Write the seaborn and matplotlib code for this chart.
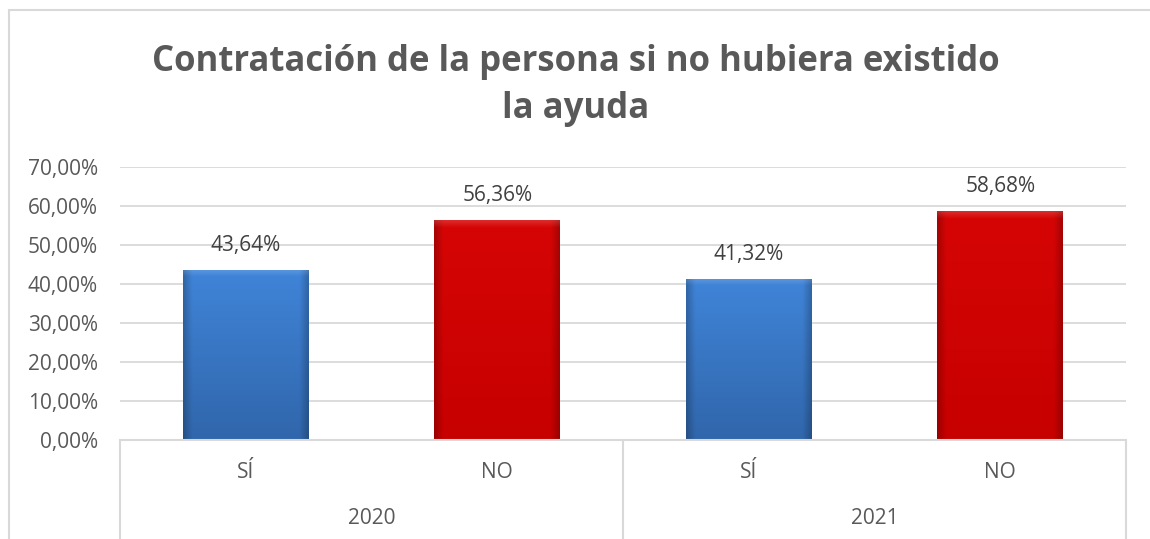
import numpy as np
import pandas as pd
import seaborn as sns
import matplotlib.pyplot as plt
from matplotlib.lines import Line2D
from matplotlib.patches import Rectangle

# ---- data ----
years = ["2020", "2020", "2021", "2021"]
answers = ["SÍ", "NO", "SÍ", "NO"]
values = [43.64, 56.36, 41.32, 58.68]
labels = ["43,64%", "56,36%", "41,32%", "58,68%"]
ytick_vals = [0, 10, 20, 30, 40, 50, 60, 70]
ytick_labels = ["0,00%", "10,00%", "20,00%", "30,00%", "40,00%", "50,00%", "60,00%", "70,00%"]
title_lines = ["Contratación de la persona si no hubiera existido", "la ayuda"]

keys = [f"{y} {a}" for y, a in zip(years, answers)]
df = pd.DataFrame({"key": keys, "year": years, "answer": answers, "value": values})

W, H = 1150, 539
sns.set_theme(style="white")
plt.rcParams["font.family"] = ["Open Sans", "DejaVu Sans"]

fig = plt.figure(figsize=(W / 100, H / 100), dpi=100)
fig.patch.set_facecolor("white")

ax_left, ax_right, ax_top, ax_bot = 120, 1126, 167, 440
ax = fig.add_axes([ax_left / W, (H - ax_bot) / H, (ax_right - ax_left) / W, (ax_bot - ax_top) / H])

blue = "#3877c8"
red = "#cc0000"
palette = [blue if a == "SÍ" else red for a in answers]
sns.barplot(data=df, x="key", y="value", hue="key", palette=palette, width=0.5,
            legend=False, ax=ax, saturation=1, zorder=3)

ax.set_xlim(-0.5, 3.5)
ax.set_ylim(0, 70)
ax.set_yticks(ytick_vals)
ax.set_yticklabels(ytick_labels, fontsize=15, color="#595959")
ax.tick_params(axis="y", length=0, pad=16)
ax.set_xticks([])
ax.set_xlabel("")
ax.set_ylabel("")
for s in ax.spines.values():
    s.set_visible(False)
ax.grid(axis="y", color="#d9d9d9", linewidth=1.3, zorder=0)
ax.set_axisbelow(True)

# gradient fill for bars (lighter top, darker bottom, darker sides, light top bevel)
for patch, a in zip(ax.patches, answers):
    x0, y0 = patch.get_x(), patch.get_y()
    w, h = patch.get_width(), patch.get_height()
    if a == "SÍ":
        top_c, bot_c = np.array([0.25, 0.52, 0.85]), np.array([0.19, 0.40, 0.67])
    else:
        top_c, bot_c = np.array([0.84, 0.02, 0.02]), np.array([0.78, 0.0, 0.0])
    ny, nx = 200, 80
    t = np.linspace(0, 1, ny)[:, None, None]   # row 0 = top
    img = top_c * (1 - t) + bot_c * t
    img = np.broadcast_to(img, (ny, nx, 3)).copy()
    xs = np.linspace(0, 1, nx)
    edge = np.clip(np.minimum(xs, 1 - xs) / 0.07, 0, 1)
    img *= (0.78 + 0.22 * edge)[None, :, None]
    depth = np.linspace(0, 1, ny) * h   # data units from top
    bevel = np.clip(1 - depth / 1.8, 0, 1)
    img = img + (1 - img) * 0.15 * bevel[:, None, None]
    img = np.clip(img, 0, 1)
    im = ax.imshow(img, extent=[x0, x0 + w, y0, y0 + h], aspect="auto", zorder=3.5,
                   interpolation="bilinear", origin="upper")
    im.set_clip_path(patch)
    patch.set_edgecolor("none")
ax.set_xlim(-0.5, 3.5)
ax.set_ylim(0, 70)

# data labels
for i, (v, lab) in enumerate(zip(values, labels)):
    ax.annotate(lab, (i, v), xytext=(0, 10), textcoords="offset points", ha="center",
                va="bottom", fontsize=15, color="#404040")

# category axis lines
gc = "#d9d9d9"
def fl(x1, y1, x2, y2):
    fig.add_artist(Line2D([x1 / W, x2 / W], [(H - y1) / H, (H - y2) / H], color=gc, linewidth=1.5))

fl(ax_left, ax_bot, ax_right, ax_bot)
mid = (ax_left + ax_right) / 2
for xv in [ax_left, mid, ax_right]:
    fl(xv, ax_bot, xv, H + 5)

# category labels
step = (ax_right - ax_left) / 4
for i, a in enumerate(answers):
    xc = ax_left + step * (i + 0.5)
    fig.text(xc / W, (H - 472) / H, a, ha="center", va="center", fontsize=15, color="#595959")
for j, yr in enumerate(["2020", "2021"]):
    xc = ax_left + step * (2 * j + 1)
    fig.text(xc / W, (H - 518) / H, yr, ha="center", va="center", fontsize=15, color="#595959")

# title
fig.text(576 / W, (H - 62) / H, title_lines[0], ha="center", va="center", fontsize=25,
         fontweight="bold", color="#595959")
fig.text(576 / W, (H - 109) / H, title_lines[1], ha="center", va="center", fontsize=25,
         fontweight="bold", color="#595959")

# outer border
fig.add_artist(Rectangle((9 / W, -0.1), 1.2, (H - 10) / H + 0.1, transform=fig.transFigure,
                         fill=False, edgecolor=gc, linewidth=1.5))

fig.savefig("out.png", dpi=100)
